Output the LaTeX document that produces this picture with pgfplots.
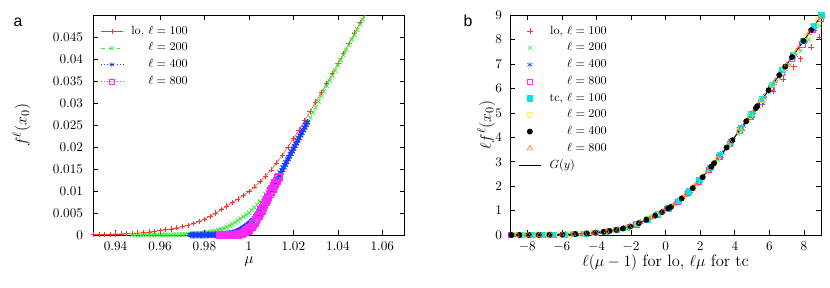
\documentclass[border=0pt]{standalone}
\usepackage{fontspec}
\usepackage{pgfplots}
\pgfplotsset{compat=1.18}
\newfontfamily\panelfont{Liberation Sans}
\definecolor{cR}{RGB}{255,50,50}
\definecolor{cG}{RGB}{50,235,50}
\definecolor{cB}{RGB}{30,60,255}
\definecolor{cM}{RGB}{255,40,255}
\definecolor{cC}{RGB}{0,230,230}
\definecolor{cY}{RGB}{255,235,0}
\definecolor{cO}{RGB}{255,100,40}
\pgfplotsset{
  panel/.style={
    scale only axis, width=236.3pt, height=166.8pt, anchor=south west,
    axis line style={line width=0.6pt},
    tick style={black, line width=0.5pt}, major tick length=3.8pt,
    tick align=inside, scaled ticks=false,
    ticklabel style={font=\fontsize{10}{12}\selectfont},
    xticklabel style={yshift=-1.5pt},
    label style={font=\fontsize{12.5}{15}\selectfont},
    xlabel style={at={(axis description cs:0.5,-0.123)}, anchor=center},
    legend cell align=right,
    legend style={draw=none, fill=none, inner sep=0pt, outer sep=0pt,
      anchor=north west, font=\fontsize{9}{10}\selectfont,
      nodes={inner sep=1pt, text height=6.5pt, text depth=2pt},
      column sep=5pt, row sep=2.2pt},
  }
}
\begin{document}
\begin{tikzpicture}
\useasboundingbox (0,0) rectangle (630pt,218.6pt);
\node[font=\panelfont\fontsize{12}{14}\selectfont] at (13.7pt,201.9pt) {a};
\node[font=\panelfont\fontsize{12}{14}\selectfont] at (355.2pt,202.7pt) {b};

\begin{axis}[panel, at={(70.8pt,40.2pt)},
  xmin=0.93, xmax=1.07, ymin=0, ymax=0.05,
  xtick={0.94,0.96,0.98,1,1.02,1.04,1.06},
  ytick={0,0.005,0.01,0.015,0.02,0.025,0.03,0.035,0.04,0.045},
  xticklabel style={/pgf/number format/fixed, /pgf/number format/precision=2},
  yticklabel style={/pgf/number format/fixed, /pgf/number format/precision=3, xshift=-4.3pt},
  xlabel={$\mu$}, ylabel={$f^{\ell}(x_0)$},
  ylabel style={at={(axis description cs:-0.23,0.5)}, anchor=center},
  legend style={at={(axis description cs:0.023,0.959)}},
]
\addplot[cR, line width=0.4pt, mark=+, mark size=2pt] coordinates {(0.9300,0.000095)(0.9325,0.00012)(0.9350,0.00015)(0.9375,0.00018)(0.9400,0.00022)(0.9425,0.00027)(0.9450,0.00032)(0.9475,0.00038)(0.9500,0.00045)(0.9525,0.00057)(0.9550,0.00070)(0.9575,0.00085)(0.9600,0.00100)(0.9625,0.00120)(0.9650,0.00140)(0.9675,0.00165)(0.9700,0.00190)(0.9725,0.00222)(0.9750,0.00260)(0.9775,0.00305)(0.9800,0.00360)(0.9825,0.00425)(0.9850,0.00500)(0.9875,0.00578)(0.9900,0.00660)(0.9925,0.00738)(0.9950,0.00818)(0.9975,0.00902)(1.0000,0.00989)(1.0025,0.01096)(1.0050,0.01213)(1.0075,0.01343)(1.0100,0.01484)(1.0125,0.01644)(1.0150,0.01814)(1.0175,0.01998)(1.0200,0.02192)(1.0225,0.02391)(1.0250,0.02600)(1.0275,0.02813)(1.0300,0.03026)(1.0325,0.03240)(1.0350,0.03453)(1.0375,0.03676)(1.0400,0.03899)(1.0425,0.04132)(1.0450,0.04365)(1.0475,0.04598)(1.0500,0.04831)(1.0525,0.05052)(1.0550,0.05275)};
\addlegendentry{lo, $\ell = 100$}
\addplot[cG, line width=0.4pt, dashed, mark=x, mark size=2.4pt, mark options={solid, line width=0.55pt}, legend image post style={mark size=2pt, mark options={solid, line width=0.4pt}}] coordinates {(0.94750,0.0000015)(0.94875,0.0000025)(0.95000,0.0000035)(0.95125,0.0000045)(0.95250,0.0000055)(0.95375,0.000007)(0.95500,0.000009)(0.95625,0.000011)(0.95750,0.0000135)(0.95875,0.0000165)(0.96000,0.00002)(0.96125,0.000025)(0.96250,0.000031)(0.96375,0.0000385)(0.96500,0.0000475)(0.96625,0.00006)(0.96750,0.000075)(0.96875,0.00009)(0.97000,0.00011)(0.97125,0.000135)(0.97250,0.00016)(0.97375,0.00019)(0.97500,0.000225)(0.97625,0.000285)(0.97750,0.00035)(0.97875,0.000425)(0.98000,0.0005)(0.98125,0.0006)(0.98250,0.0007)(0.98375,0.000825)(0.98500,0.00095)(0.98625,0.00111)(0.98750,0.0013)(0.98875,0.001525)(0.99000,0.0018)(0.99125,0.002125)(0.99250,0.0025)(0.99375,0.00289)(0.99500,0.0033)(0.99625,0.003725)(0.99750,0.00415)(0.99875,0.0046)(1.00000,0.0051)(1.00125,0.00564)(1.00250,0.00624)(1.00375,0.00691)(1.00500,0.00762)(1.00625,0.00844)(1.00750,0.00931)(1.00875,0.01025)(1.01000,0.01121)(1.01125,0.01222)(1.01250,0.01327)(1.01375,0.01434)(1.01500,0.01541)(1.01625,0.01648)(1.01750,0.01755)(1.01875,0.01865)(1.02000,0.01977)(1.02125,0.02092)(1.02250,0.02206)(1.02375,0.02321)(1.02500,0.02436)(1.02625,0.02551)(1.02750,0.02673)(1.02875,0.02793)(1.03000,0.02913)(1.03125,0.03037)(1.03250,0.03156)(1.03375,0.03274)(1.03500,0.03392)(1.03625,0.03510)(1.03750,0.03628)(1.03875,0.03745)(1.04000,0.03862)(1.04125,0.03979)(1.04250,0.04096)(1.04375,0.04212)(1.04500,0.04328)(1.04625,0.04444)(1.04750,0.04560)(1.04875,0.04675)(1.05000,0.04790)(1.05125,0.04905)(1.05250,0.05020)(1.05375,0.05134)};
\addlegendentry{$\ell = 200$}
\addplot[cB, line width=0.4pt, dotted, mark=asterisk, mark size=2.5pt, mark options={solid, line width=0.9pt}, legend image post style={mark size=2pt, mark options={solid, line width=0.4pt}}] coordinates {(0.973750,0.0000008)(0.974375,0.0000013)(0.975000,0.0000018)(0.975625,0.0000023)(0.976250,0.0000028)(0.976875,0.0000035)(0.977500,0.0000045)(0.978125,0.0000055)(0.978750,0.0000068)(0.979375,0.0000083)(0.980000,0.00001)(0.980625,0.0000125)(0.981250,0.0000155)(0.981875,0.0000193)(0.982500,0.0000238)(0.983125,0.00003)(0.983750,0.0000375)(0.984375,0.000045)(0.985000,0.000055)(0.985625,0.0000675)(0.986250,0.00008)(0.986875,0.000095)(0.987500,0.0001125)(0.988125,0.0001425)(0.988750,0.000175)(0.989375,0.0002125)(0.990000,0.00025)(0.990625,0.0003)(0.991250,0.00035)(0.991875,0.0004125)(0.992500,0.000475)(0.993125,0.000555)(0.993750,0.00065)(0.994375,0.0007625)(0.995000,0.0009)(0.995625,0.0010625)(0.996250,0.00125)(0.996875,0.001445)(0.997500,0.00165)(0.998125,0.0018625)(0.998750,0.002075)(0.999375,0.0023)(1.000000,0.00255)(1.000625,0.002819)(1.001250,0.003122)(1.001875,0.003457)(1.002500,0.003817)(1.003125,0.004227)(1.003750,0.004661)(1.004375,0.005132)(1.005000,0.005627)(1.005625,0.006135)(1.006250,0.006667)(1.006875,0.00721)(1.007500,0.007753)(1.008125,0.008296)(1.008750,0.008838)(1.009375,0.009404)(1.010000,0.00997)(1.010625,0.010559)(1.011250,0.011149)(1.011875,0.011737)(1.012500,0.012326)(1.013125,0.012938)(1.013750,0.013549)(1.014375,0.01416)(1.015000,0.014771)(1.015625,0.01538)(1.016250,0.015989)(1.016875,0.016598)(1.017500,0.017206)(1.018125,0.017813)(1.018750,0.01842)(1.019375,0.019025)(1.020000,0.019631)(1.020625,0.020236)(1.021250,0.02084)(1.021875,0.021443)(1.022500,0.022046)(1.023125,0.022648)(1.023750,0.02325)(1.024375,0.023851)(1.025000,0.024451)(1.025625,0.025051)(1.026250,0.02565)};
\addlegendentry{$\ell = 400$}
\addplot[cM, line width=0.4pt, dotted, mark=square, mark size=2.6pt, mark options={solid, line width=1pt}, legend image post style={mark size=2pt, mark options={solid, line width=0.4pt}}] coordinates {(0.986875,0.0000004)(0.987500,0.0000009)(0.988125,0.0000014)(0.988750,0.0000023)(0.989375,0.0000034)(0.990000,0.000005)(0.990625,0.0000078)(0.991250,0.0000119)(0.991875,0.0000188)(0.992500,0.0000275)(0.993125,0.00004)(0.993750,0.0000563)(0.994375,0.0000875)(0.995000,0.000125)(0.995625,0.000175)(0.996250,0.0002375)(0.996875,0.000325)(0.997500,0.00045)(0.998125,0.000625)(0.998750,0.000825)(0.999375,0.0010375)(1.000000,0.001275)(1.000625,0.0015617)(1.001250,0.0019106)(1.001875,0.002334)(1.002500,0.0028193)(1.003125,0.0033416)(1.003750,0.0038883)(1.004375,0.0044344)(1.005000,0.0050049)(1.005625,0.0055997)(1.006250,0.0061939)(1.006875,0.0068123)(1.007500,0.0074302)(1.008125,0.0080474)(1.008750,0.0086639)(1.009375,0.0092799)(1.010000,0.0098952)(1.010625,0.0105099)(1.011250,0.011124)(1.011875,0.0117374)(1.012500,0.0123503)(1.013125,0.0129625)(1.013438,0.013268)};
\addlegendentry{$\ell = 800$}
\end{axis}

\begin{axis}[panel, at={(387.1pt,40.2pt)},
  xmin=-9, xmax=9, ymin=0, ymax=9,
  xtick={-8,-6,-4,-2,0,2,4,6,8},
  ytick={0,1,2,3,4,5,6,7,8,9},
  yticklabel style={xshift=-2.5pt},
  xlabel={$\ell(\mu-1)$ for lo, $\ell\mu$ for tc}, ylabel={$\ell f^{\ell}(x_0)$},
  ylabel style={at={(axis description cs:-0.077,0.5)}, anchor=center},
  legend style={at={(axis description cs:0.026,0.959)}},
]
\addplot[cR, only marks, mark=+, mark size=2.2pt, line width=0.4pt] coordinates {(-8.8,0.0025)(-8.2,0.0035)(-7.6,0.0057)(-7.0,0.0095)(-6.4,0.016)(-5.8,0.026)(-5.2,0.040)(-4.6,0.065)(-4.0,0.100)(-3.4,0.150)(-2.8,0.216)(-2.2,0.316)(-1.6,0.469)(-1.0,0.660)(-0.4,0.849)(0.2,1.075)(0.8,1.372)(1.4,1.746)(2.0,2.192)(2.6,2.685)(3.2,3.197)(3.8,3.721)(4.4,4.272)(5.0,4.831)(5.6,5.362)(6.2,5.883)(6.8,6.394)(7.4,6.893)(7.8,7.220)(8.4,7.701)(8.9,8.094)};
\addlegendentry{lo, $\ell = 100$}
\addplot[cG, only marks, mark=x, mark size=2.2pt, line width=0.4pt] coordinates {(-8.9,0.002)(-8.4,0.003)(-7.8,0.005)(-7.2,0.008)(-6.6,0.014)(-6.0,0.022)(-5.4,0.034)(-4.8,0.055)(-4.2,0.088)(-3.6,0.132)(-3.0,0.190)(-2.4,0.278)(-1.8,0.412)(-1.2,0.594)(-0.6,0.796)(0.0,1.020)(0.6,1.301)(1.2,1.654)(1.8,2.085)(2.4,2.569)(3.0,3.083)(3.6,3.599)(4.2,4.141)(4.8,4.688)(5.4,5.264)(6.0,5.836)(6.6,6.406)(7.2,6.973)(7.8,7.537)(8.3,8.005)(8.9,8.564)};
\addlegendentry{$\ell = 200$}
\addplot[cB, only marks, mark=asterisk, mark size=2.2pt, line width=0.4pt] coordinates {(-8.7,0.0023)(-8.1,0.0037)(-7.5,0.0062)(-6.9,0.011)(-6.3,0.0174)(-5.7,0.028)(-5.1,0.042)(-4.5,0.070)(-3.9,0.108)(-3.3,0.160)(-2.7,0.230)(-2.1,0.338)(-1.5,0.500)(-0.9,0.694)(-0.3,0.902)(0.3,1.153)(0.9,1.469)(1.5,1.864)(2.1,2.332)(2.7,2.841)(3.3,3.362)(3.9,3.897)(4.5,4.460)(5.1,5.028)(5.7,5.615)(6.3,6.201)(6.9,6.785)(7.5,7.368)(8.1,7.949)(8.6,8.432)};
\addlegendentry{$\ell = 400$}
\addplot[cM, only marks, mark=square, mark size=2pt, line width=0.4pt] coordinates {(-8.95,0.0019)(-8.3,0.0032)(-7.7,0.0052)(-7.1,0.0088)(-6.5,0.015)(-5.9,0.024)(-5.3,0.037)(-4.7,0.059)(-4.1,0.094)(-3.5,0.140)(-2.9,0.203)(-2.3,0.296)(-1.7,0.440)(-1.1,0.627)(-0.5,0.830)(0.1,1.064)(0.7,1.357)(1.3,1.728)(1.9,2.176)(2.5,2.673)(3.1,3.198)(3.7,3.730)(4.3,4.289)(4.9,4.856)(5.5,5.450)(6.1,6.043)(6.7,6.635)(7.3,7.227)(7.9,7.818)(8.5,8.408)(8.95,8.850)};
\addlegendentry{$\ell = 800$}
\addplot[cC, only marks, mark=square*, mark size=2pt, mark options={fill=cC, draw=cC}] coordinates {(-8.85,0.002)(-8.25,0.0033)(-7.65,0.0055)(-7.05,0.0091)(-6.45,0.0156)(-5.85,0.025)(-5.25,0.038)(-4.65,0.062)(-4.05,0.097)(-3.45,0.145)(-2.85,0.209)(-2.25,0.305)(-1.65,0.455)(-1.05,0.644)(-0.45,0.848)(0.15,1.10)(0.75,1.41)(1.35,1.79)(1.95,2.25)(2.55,2.75)(3.15,3.28)(3.75,3.82)(4.35,4.39)(4.95,4.96)(5.55,5.56)(6.15,6.16)(6.75,6.76)(7.35,7.36)(7.95,7.96)(8.55,8.56)(9.0,9.0)};
\addlegendentry{tc, $\ell = 100$}
\addplot[cY, only marks, mark=o, mark size=2.2pt, line width=0.5pt] coordinates {(-8.75,0.0022)(-8.1,0.0037)(-7.45,0.0065)(-6.8,0.0114)(-6.15,0.0196)(-5.5,0.032)(-4.85,0.052)(-4.2,0.088)(-3.55,0.136)(-2.9,0.203)(-2.25,0.305)(-1.6,0.469)(-0.95,0.677)(-0.3,0.902)(0.35,1.178)(1.0,1.53)(1.65,1.984)(2.3,2.508)(2.95,3.076)(3.6,3.652)(4.25,4.26)(4.9,4.88)(5.55,5.53)(6.2,6.18)(6.85,6.83)(7.5,7.48)(8.15,8.13)(8.8,8.78)};
\addlegendentry{$\ell = 200$}
\addplot[black, only marks, mark=*, mark size=2pt] coordinates {(-8.92,0.002)(-8.46,0.0028)(-7.92,0.0043)(-7.33,0.0072)(-6.71,0.0125)(-5.97,0.0226)(-5.23,0.0385)(-4.57,0.0665)(-4.06,0.096)(-3.58,0.134)(-3.24,0.166)(-2.85,0.209)(-2.47,0.265)(-2.04,0.350)(-1.55,0.485)(-1.11,0.624)(-0.61,0.792)(-0.2,0.94)(0.15,1.09)(0.3,1.15)(0.93,1.50)(1.57,1.92)(2.14,2.37)(2.64,2.80)(2.8,2.94)(3.52,3.58)(3.85,3.88)(4.66,4.66)(5.22,5.20)(5.3,5.28)(5.95,5.93)(6.57,6.55)(6.92,6.90)(7.31,7.29)(7.97,7.95)(8.41,8.39)};
\addlegendentry{$\ell = 400$}
\addplot[cO, only marks, mark=triangle, mark size=2.2pt, line width=0.4pt] coordinates {(-8.6,0.0025)(-7.95,0.0042)(-7.3,0.0074)(-6.65,0.013)(-6.0,0.022)(-5.35,0.036)(-4.7,0.059)(-4.05,0.097)(-3.4,0.150)(-2.75,0.222)(-2.1,0.338)(-1.45,0.516)(-0.8,0.728)(-0.15,0.96)(0.5,1.25)(1.15,1.63)(1.8,2.10)(2.45,2.637)(3.1,3.208)(3.75,3.79)(4.4,4.40)(5.05,5.03)(5.7,5.68)(6.35,6.33)(7.0,6.98)(7.65,7.63)(8.3,8.28)(8.95,8.93)};
\addlegendentry{$\ell = 800$}
\addplot[black, line width=0.8pt, no marks, smooth] coordinates {(-9,0.0018)(-8,0.004)(-7,0.0095)(-6.5,0.015)(-6,0.022)(-5.5,0.032)(-5,0.045)(-4.5,0.07)(-4,0.1)(-3.5,0.14)(-3,0.19)(-2.5,0.26)(-2,0.36)(-1.5,0.5)(-1,0.66)(-0.5,0.83)(0,1.02)(0.5,1.25)(1,1.53)(1.5,1.87)(2,2.26)(2.5,2.68)(3,3.12)(3.5,3.56)(4,4.02)(4.5,4.5)(5,4.98)(6,5.98)(7,6.98)(8,7.98)(9,8.98)};
\addlegendentry{\rlap{$G(y)$}\phantom{tc, $\ell = 100$}}
\end{axis}
\end{tikzpicture}
\end{document}
